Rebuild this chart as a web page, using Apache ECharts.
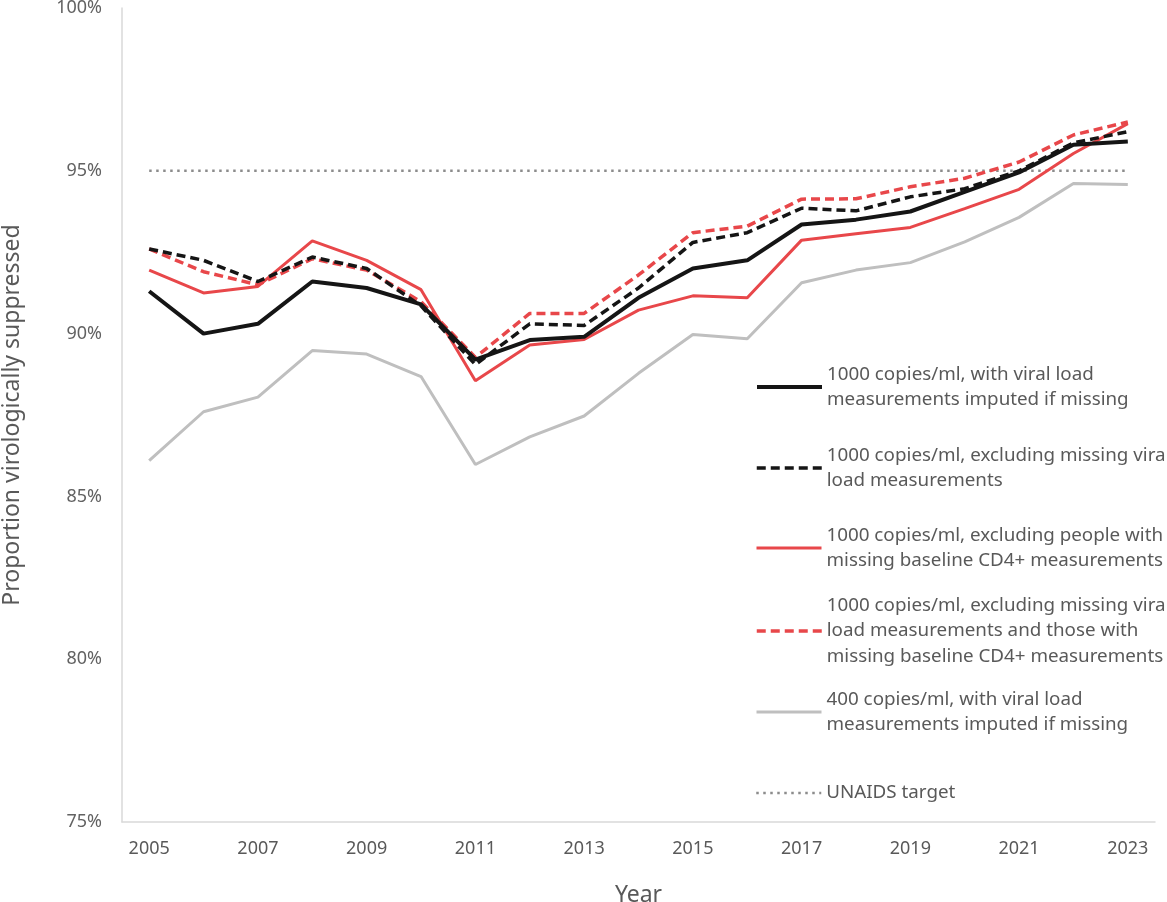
<!DOCTYPE html>
<html>
<head>
<meta charset="utf-8">
<script src="https://cdn.jsdelivr.net/npm/echarts@6/dist/echarts.min.js"></script>
<style>html,body{margin:0;padding:0;background:#fff}#chart{width:1167px;height:902px}</style>
</head>
<body>
<div id="chart"></div>
<script>
const years = ['2005','2006','2007','2008','2009','2010','2011','2012','2013','2014','2015','2016','2017','2018','2019','2020','2021','2022','2023'];
const seriesNames = [
  '1000 copies/ml, with viral load measurements imputed if missing',
  '1000 copies/ml, excluding missing viral load measurements',
  '1000 copies/ml, excluding people with missing baseline CD4+ measurements',
  '1000 copies/ml, excluding missing viral load measurements and those with missing baseline CD4+ measurements',
  '400 copies/ml, with viral load measurements imputed if missing',
  'UNAIDS target'
];
const legendLabels = [
  '1000 copies/ml, with viral load\nmeasurements imputed if missing',
  '1000 copies/ml, excluding missing viral\nload measurements',
  '1000 copies/ml, excluding people with\nmissing baseline CD4+ measurements',
  '1000 copies/ml, excluding missing viral\nload measurements and those with\nmissing baseline CD4+ measurements',
  '400 copies/ml, with viral load\nmeasurements imputed if missing',
  'UNAIDS target'
];
const imputed1000 = [91.3, 90.0, 90.3, 91.6, 91.4, 90.9, 89.2, 89.8, 89.9, 91.1, 92.0, 92.25, 93.35, 93.5, 93.75, 94.35, 94.95, 95.8, 95.9];
const excludingMissingVL = [92.6, 92.25, 91.6, 92.35, 92.0, 90.85, 89.05, 90.3, 90.25, 91.4, 92.8, 93.1, 93.85, 93.77, 94.2, 94.45, 95.0, 95.86, 96.2];
const excludingMissingCD4 = [91.95, 91.25, 91.45, 92.85, 92.25, 91.35, 88.55, 89.65, 89.82, 90.72, 91.16, 91.1, 92.87, 93.07, 93.26, 93.84, 94.43, 95.53, 96.45];
const excludingBoth = [92.6, 91.9, 91.5, 92.3, 91.95, 90.98, 89.27, 90.62, 90.62, 91.8, 93.1, 93.3, 94.13, 94.14, 94.51, 94.77, 95.27, 96.1, 96.5];
const imputed400 = [86.1, 87.6, 88.05, 89.48, 89.37, 88.68, 85.98, 86.83, 87.47, 88.78, 89.97, 89.84, 91.56, 91.95, 92.18, 92.82, 93.57, 94.61, 94.58];
const unaidsTarget = [95, 95, 95, 95, 95, 95, 95, 95, 95, 95, 95, 95, 95, 95, 95, 95, 95, 95, 95];
const yTicks = [75, 80, 85, 90, 95, 100];

const FONT = 'Noto Sans';
const TXT = '#595959';
const chart = echarts.init(document.getElementById('chart'));

const lineStyles = [
  {color: '#151515', width: 4, type: 'solid'},
  {color: '#151515', width: 3.5, type: [9, 5]},
  {color: '#e8474a', width: 3, type: 'solid'},
  {color: '#e8474a', width: 3.5, type: [9, 5]},
  {color: '#bfbfbf', width: 3, type: 'solid'},
  {color: '#8c8c8c', width: 2.5, type: [2.5, 4.5]}
];
const dataArr = [imputed1000, excludingMissingVL, excludingMissingCD4, excludingBoth, imputed400, unaidsTarget];
const zOrder = [6, 5, 3, 4, 2, 1];

const lh = 25.5;
const legendCenters = [387, 468, 548, 631, 712, 793];
const legends = seriesNames.map((n, i) => {
  const lines = legendLabels[i].split('\n').length;
  const p = (lines - 1) * lh;
  const H = p + lines * lh;
  return {
    data: [n],
    orient: 'vertical',
    left: 755,
    top: legendCenters[i] - H / 2,
    padding: 0,
    itemWidth: 65,
    itemHeight: 14,
    selectedMode: false,
    itemStyle: {opacity: 0},
    lineStyle: {color: lineStyles[i].color, width: lineStyles[i].width, type: lineStyles[i].type},
    formatter: () => legendLabels[i],
    textStyle: {fontFamily: FONT, fontSize: 18.8, color: TXT, lineHeight: lh, padding: [p, 0, 0, 0]}
  };
});

chart.setOption({
  animation: false,
  backgroundColor: '#fff',
  grid: {left: 122, right: 12, top: 8, bottom: 80, containLabel: false, outerBoundsMode: 'none'},
  legend: legends,
  xAxis: {
    type: 'category',
    data: years,
    boundaryGap: true,
    name: 'Year',
    nameLocation: 'middle',
    nameGap: 62,
    nameTextStyle: {fontFamily: FONT, fontSize: 23, color: TXT},
    axisLine: {show: true, lineStyle: {color: '#d9d9d9', width: 1.5}},
    axisTick: {show: false},
    axisLabel: {interval: 1, fontFamily: FONT, fontSize: 18, color: TXT, margin: 18}
  },
  yAxis: {
    type: 'value',
    min: yTicks[0],
    max: yTicks[yTicks.length - 1],
    interval: 5,
    name: 'Proportion virologically suppressed',
    nameLocation: 'middle',
    nameGap: 98,
    nameTextStyle: {fontFamily: FONT, fontSize: 23, color: TXT},
    axisLine: {show: true, lineStyle: {color: '#d9d9d9', width: 1.5}},
    axisTick: {show: false},
    splitLine: {show: false},
    axisLabel: {formatter: '{value}%', fontFamily: FONT, fontSize: 18, color: '#626262', margin: 20}
  },
  series: seriesNames.map((n, i) => ({
    name: n,
    type: 'line',
    data: dataArr[i],
    symbol: 'none',
    showSymbol: false,
    z: zOrder[i],
    color: lineStyles[i].color,
    lineStyle: lineStyles[i],
    emphasis: {disabled: true}
  }))
});
</script>
</body>
</html>
